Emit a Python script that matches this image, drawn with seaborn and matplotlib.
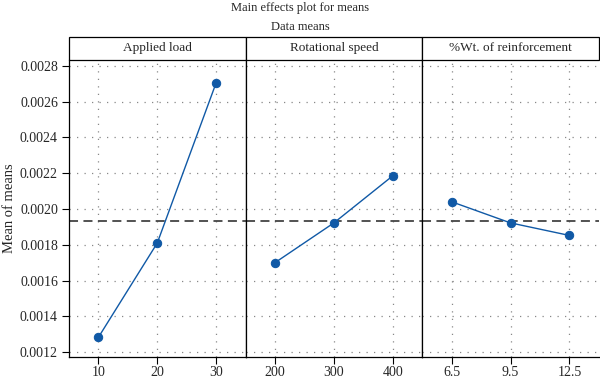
import matplotlib
matplotlib.use("Agg")
import matplotlib.pyplot as plt
import matplotlib.patches as mpatches
import numpy as np
import pandas as pd
import seaborn as sns

factors = ["Applied load", "Rotational speed", "%Wt. of reinforcement"]
load_levels = ["10", "20", "30"]
load_means = [0.001283, 0.001810, 0.002705]
speed_levels = ["200", "300", "400"]
speed_means = [0.001700, 0.001922, 0.002185]
wt_levels = ["6.5", "9.5", "12.5"]
wt_means = [0.002040, 0.001922, 0.001852]
y_ticks = [0.0012, 0.0014, 0.0016, 0.0018, 0.0020, 0.0022, 0.0024, 0.0026, 0.0028]

levels = [load_levels, speed_levels, wt_levels]
means = [load_means, speed_means, wt_means]

df = pd.concat(
    [pd.DataFrame({"factor": f, "level": lv, "mean": m}) for f, lv, m in zip(factors, levels, means)],
    ignore_index=True,
)
grand_mean = np.mean(load_means)

sns.set_theme(style="white")
plt.rcParams["font.family"] = ["Liberation Serif", "DejaVu Serif"]

fig, axes = plt.subplots(1, 3, figsize=(6, 3.81), dpi=100, sharey=True)
fig.subplots_adjust(left=0.115, right=0.998, bottom=0.064, top=0.843, wspace=0)

line_color = "#1059a6"
strip_h = 23 / 297

for i, (ax, factor, order) in enumerate(zip(axes, factors, levels)):
    sub = df[df["factor"] == factor]
    sns.pointplot(data=sub, x="level", y="mean", order=order, ax=ax,
                  color=line_color, markers="o", markersize=6, linewidth=1.0,
                  errorbar=None)
    ax.grid(True, axis="both", color="#888888", linestyle=(0, (1, 5)), linewidth=0.9)
    ax.set_axisbelow(True)
    ax.axhline(grand_mean, color="#444444", linestyle=(0, (5, 3)), linewidth=1.3, zorder=1)
    ax.set_xlim(-0.5, 2.5)
    ax.set_ylim(0.001175, 0.002833)
    ax.set_yticks(y_ticks)
    ax.yaxis.set_major_formatter(matplotlib.ticker.FormatStrFormatter("%.4f"))
    ax.set_xlabel("")
    ax.set_ylabel("")
    ax.tick_params(axis="x", bottom=True, length=5, width=0.8, color="black",
                   labelsize=10, pad=2)
    ax.tick_params(axis="y", left=(i == 0), length=5, width=0.8, color="black",
                   labelsize=10, pad=3)
    for side in ["left", "bottom", "right", "top"]:
        ax.spines[side].set_color("black")
        ax.spines[side].set_linewidth(0.9)
    ax.spines["top"].set_visible(False)
    if i == 2:
        ax.spines["right"].set_visible(False)
    # strip header
    rect = mpatches.Rectangle((0, 1), 1, strip_h, transform=ax.transAxes,
                              facecolor="white", edgecolor="black", linewidth=0.9,
                              clip_on=False)
    ax.add_patch(rect)
    ax.text(0.5, 1 + strip_h / 2, factor, transform=ax.transAxes,
            ha="center", va="center", fontsize=9.5)

axes[0].set_ylabel("Mean of means", fontsize=10.5, labelpad=3)
fig.text(0.5, 0.978, "Main effects plot for means", ha="center", va="center", fontsize=9)
fig.text(0.5, 0.93, "Data means", ha="center", va="center", fontsize=9)

fig.savefig("out.png", dpi=100)
